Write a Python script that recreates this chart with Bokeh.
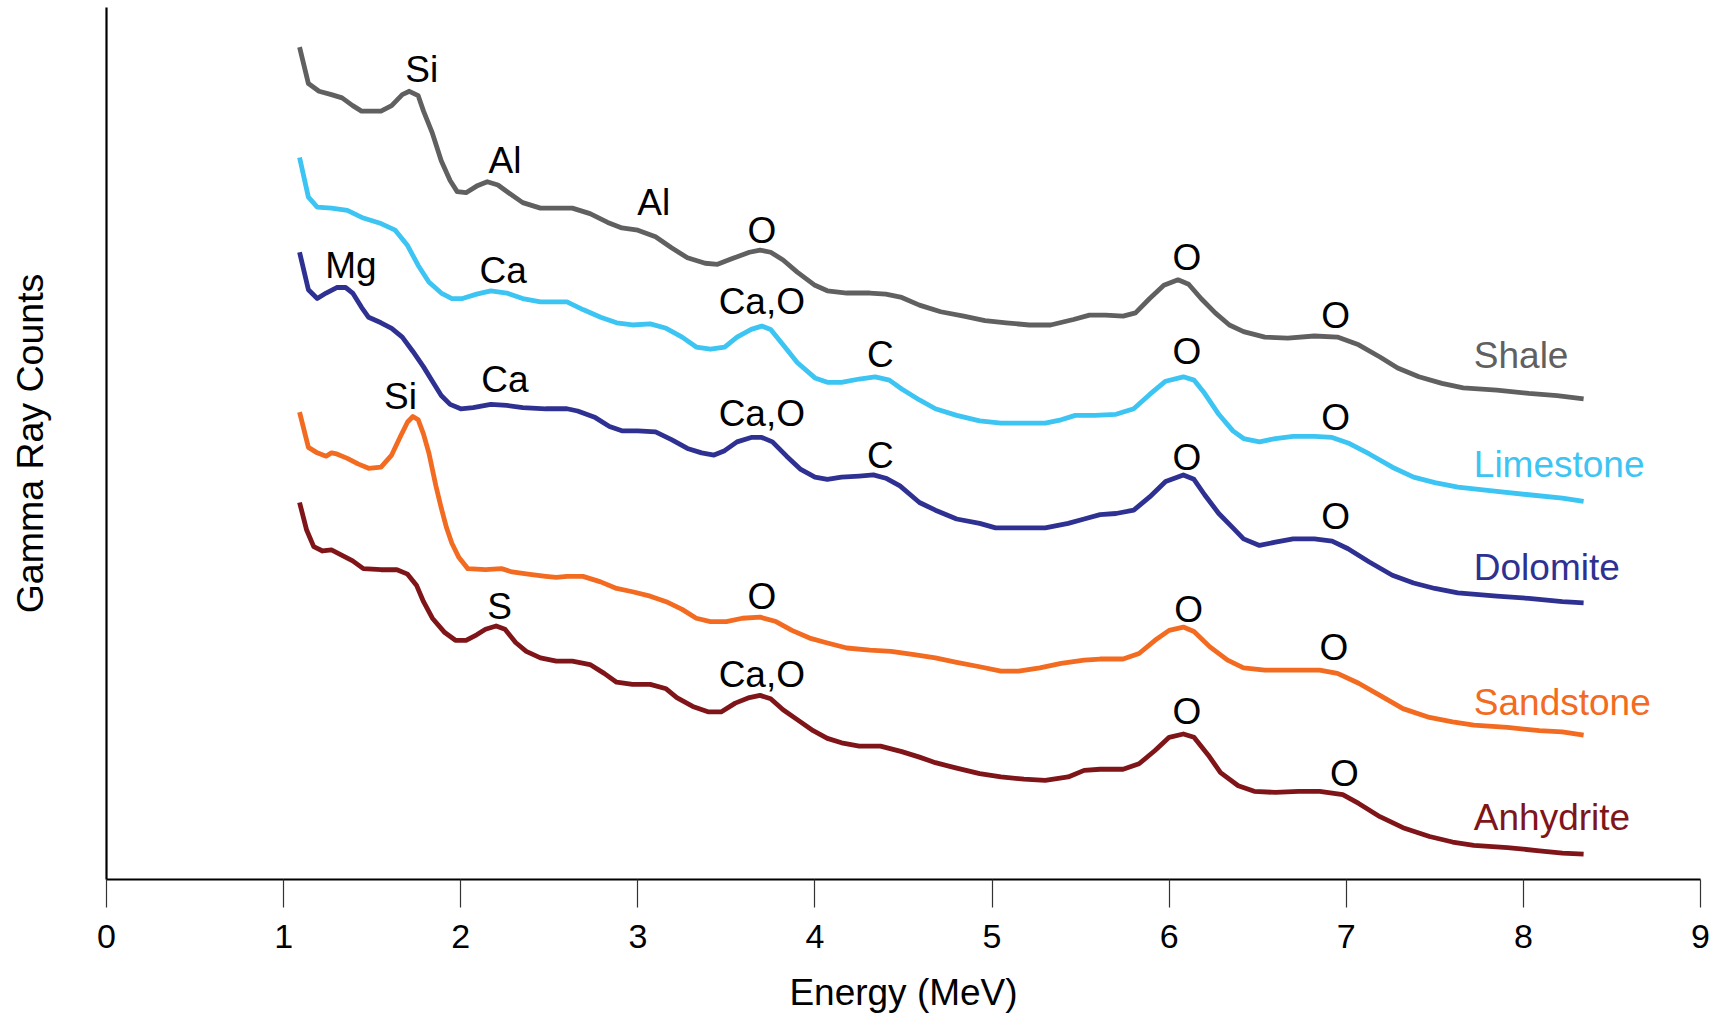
from bokeh.plotting import figure
from bokeh.models import Range1d, FixedTicker
from bokeh.core.properties import value
from bokeh.embed import file_html
from bokeh.resources import INLINE

FONT = "Liberation Sans"

# Energy (MeV) and relative gamma-ray counts (arbitrary offset units)
shale_e = [1.09, 1.14, 1.20, 1.27, 1.33, 1.39, 1.44, 1.55, 1.61, 1.67, 1.71, 1.76, 1.79, 1.84, 1.89, 1.94, 1.98, 2.03, 2.09, 2.15,
           2.21, 2.27, 2.35, 2.45, 2.63, 2.73, 2.83, 2.91, 3.00, 3.10, 3.19, 3.28, 3.38, 3.45, 3.53, 3.63, 3.69, 3.75, 3.82, 3.90,
           4.00, 4.07, 4.18, 4.31, 4.40, 4.49, 4.59, 4.71, 4.84, 4.96, 5.08, 5.21, 5.33, 5.46, 5.55, 5.64, 5.74, 5.81, 5.89, 5.97,
           6.05, 6.11, 6.18, 6.26, 6.34, 6.42, 6.54, 6.67, 6.82, 6.95, 7.07, 7.19, 7.29, 7.41, 7.54, 7.66, 7.85, 8.03, 8.19, 8.34]
shale_c = [755, 722, 715, 712, 709, 702, 697, 697, 702, 712, 715, 711, 697, 677, 652, 634, 624, 623, 629, 633,
           630, 623, 614, 609, 609, 604, 596, 591, 589, 583, 573, 564, 559, 558, 563, 569, 571, 569, 562, 551,
           539, 534, 532, 532, 531, 528, 521, 515, 511, 507, 505, 503, 503, 508, 512, 512, 511, 514, 527, 539,
           544, 540, 527, 514, 503, 497, 492, 491, 493, 492, 485, 474, 464, 456, 450, 446, 444, 441, 439, 436]

lime_e = [1.09, 1.14, 1.19, 1.27, 1.36, 1.45, 1.55, 1.63, 1.70, 1.76, 1.82, 1.89, 1.95, 2.01, 2.09, 2.17, 2.26, 2.35, 2.45, 2.60,
          2.69, 2.79, 2.88, 2.97, 3.07, 3.16, 3.25, 3.33, 3.41, 3.49, 3.56, 3.64, 3.70, 3.75, 3.82, 3.90, 4.00, 4.07, 4.15, 4.25,
          4.34, 4.42, 4.49, 4.59, 4.68, 4.80, 4.93, 5.05, 5.18, 5.30, 5.39, 5.47, 5.58, 5.70, 5.80, 5.89, 5.98, 6.08, 6.14, 6.20,
          6.28, 6.36, 6.42, 6.51, 6.60, 6.70, 6.82, 6.92, 7.01, 7.13, 7.26, 7.38, 7.50, 7.63, 7.85, 8.03, 8.22, 8.34]
lime_c = [655, 619, 610, 609, 607, 600, 595, 589, 575, 557, 542, 532, 527, 527, 531, 534, 532, 527, 524, 524,
          517, 510, 505, 503, 504, 500, 492, 483, 481, 483, 492, 499, 502, 499, 485, 469, 455, 451, 451, 454,
          456, 453, 445, 435, 427, 421, 416, 414, 414, 414, 417, 421, 421, 422, 427, 440, 452, 456, 453, 441,
          422, 407, 400, 397, 400, 402, 402, 401, 396, 386, 374, 365, 360, 356, 352, 349, 346, 343]

dolo_e = [1.09, 1.14, 1.19, 1.24, 1.30, 1.35, 1.39, 1.44, 1.48, 1.55, 1.61, 1.67, 1.73, 1.79, 1.84, 1.89, 1.94, 2.00, 2.07, 2.17,
          2.26, 2.35, 2.48, 2.60, 2.66, 2.76, 2.84, 2.91, 3.00, 3.10, 3.19, 3.28, 3.36, 3.43, 3.49, 3.56, 3.64, 3.70, 3.76, 3.84,
          3.92, 4.00, 4.07, 4.15, 4.25, 4.33, 4.40, 4.48, 4.59, 4.68, 4.80, 4.93, 5.02, 5.15, 5.30, 5.43, 5.52, 5.61, 5.70, 5.80,
          5.89, 5.98, 6.08, 6.14, 6.20, 6.28, 6.36, 6.42, 6.51, 6.60, 6.70, 6.82, 6.92, 7.01, 7.13, 7.26, 7.38, 7.50, 7.63, 7.85,
          8.03, 8.22, 8.34]
dolo_c = [569, 535, 527, 532, 537, 537, 532, 519, 510, 505, 500, 492, 479, 465, 452, 439, 431, 427, 428, 431,
          430, 428, 427, 427, 425, 419, 411, 407, 407, 406, 399, 391, 387, 385, 389, 397, 401, 401, 397, 384,
          372, 365, 363, 365, 366, 367, 364, 357, 342, 335, 327, 323, 319, 319, 319, 323, 327, 331, 332, 335,
          347, 361, 367, 363, 349, 332, 319, 309, 303, 306, 309, 309, 307, 300, 288, 276, 269, 264, 260, 257,
          255, 252, 251]

sand_e = [1.09, 1.14, 1.19, 1.24, 1.27, 1.30, 1.36, 1.42, 1.48, 1.55, 1.61, 1.66, 1.70, 1.73, 1.76, 1.79, 1.82, 1.86, 1.89, 1.92,
          1.95, 1.99, 2.04, 2.14, 2.23, 2.29, 2.38, 2.48, 2.54, 2.60, 2.69, 2.79, 2.88, 2.97, 3.07, 3.16, 3.25, 3.33, 3.41, 3.50,
          3.59, 3.69, 3.78, 3.87, 3.97, 4.06, 4.18, 4.31, 4.43, 4.56, 4.68, 4.80, 4.93, 5.05, 5.15, 5.27, 5.39, 5.52, 5.61, 5.74,
          5.83, 5.92, 6.00, 6.08, 6.14, 6.23, 6.33, 6.42, 6.54, 6.70, 6.85, 6.95, 7.07, 7.19, 7.32, 7.47, 7.60, 7.72, 7.91, 8.09,
          8.22, 8.34]
sand_c = [424, 392, 387, 384, 387, 386, 382, 377, 373, 374, 385, 402, 415, 420, 417, 404, 387, 357, 337, 319,
          305, 292, 282, 281, 282, 279, 277, 275, 274, 275, 275, 270, 264, 261, 257, 252, 245, 237, 234, 234,
          237, 238, 234, 226, 219, 215, 210, 208, 207, 204, 201, 197, 193, 189, 189, 192, 196, 199, 200, 200,
          205, 217, 226, 229, 225, 211, 199, 192, 190, 190, 190, 187, 178, 167, 155, 147, 143, 140, 138, 135,
          134, 131]

anhy_e = [1.09, 1.13, 1.17, 1.22, 1.27, 1.33, 1.39, 1.45, 1.55, 1.64, 1.70, 1.75, 1.79, 1.84, 1.91, 1.97, 2.03, 2.09, 2.14, 2.20,
          2.25, 2.31, 2.37, 2.45, 2.54, 2.63, 2.73, 2.81, 2.88, 2.97, 3.07, 3.16, 3.22, 3.31, 3.40, 3.47, 3.55, 3.63, 3.69, 3.75,
          3.82, 3.90, 3.99, 4.07, 4.15, 4.25, 4.37, 4.49, 4.59, 4.68, 4.80, 4.93, 5.05, 5.18, 5.30, 5.43, 5.52, 5.61, 5.74, 5.83,
          5.92, 6.00, 6.08, 6.14, 6.22, 6.29, 6.39, 6.48, 6.60, 6.73, 6.85, 6.98, 7.07, 7.19, 7.32, 7.47, 7.60, 7.72, 7.91, 8.09,
          8.22, 8.34]
anhy_c = [342, 317, 302, 298, 299, 294, 289, 282, 281, 281, 277, 267, 252, 237, 224, 217, 217, 222, 227, 230,
          227, 215, 207, 201, 198, 198, 195, 187, 179, 177, 177, 173, 165, 157, 152, 152, 160, 165, 167, 164,
          154, 145, 135, 128, 124, 121, 121, 116, 111, 106, 101, 96, 93, 91, 90, 93, 99, 100, 100, 105,
          117, 129, 132, 129, 113, 97, 85, 80, 79, 80, 80, 77, 69, 57, 47, 39, 34, 31, 29, 26,
          24, 23]

series_names = ["Shale", "Limestone", "Dolomite", "Sandstone", "Anhydrite"]
series_colors = ["#606060", "#3cc4f2", "#2e3192", "#f26b21", "#7f1519"]
name_e = [7.72, 7.72, 7.72, 7.72, 7.72]
name_c = [475, 376, 283, 161, 56]

# Peak annotations: element label, energy, counts position
peak_text = ["Si", "Al", "Al", "O", "O", "O",
             "Ca", "Ca,O", "C", "O", "O",
             "Mg", "Ca", "Ca,O", "C", "O", "O",
             "Si", "O", "O", "O",
             "S", "Ca,O", "O", "O"]
peak_e = [1.78, 2.25, 3.09, 3.70, 6.10, 6.94,
          2.24, 3.70, 4.37, 6.10, 6.94,
          1.38, 2.25, 3.70, 4.37, 6.10, 6.94,
          1.66, 3.70, 6.11, 6.93,
          2.22, 3.70, 6.10, 6.99]
peak_c = [735, 652, 614, 589, 564, 512,
          552, 524, 476, 479, 419,
          557, 454, 423, 385, 383, 329,
          438, 257, 245, 210,
          248, 186, 152, 96]

x_ticks = [0, 1, 2, 3, 4, 5, 6, 7, 8, 9]

p = figure(width=1722, height=1015, output_backend="svg", toolbar_location=None,
           x_range=Range1d(0, 9), y_range=Range1d(0, 791),
           min_border_left=106, min_border_right=22, min_border_top=7, min_border_bottom=100)
p.grid.visible = False
p.outline_line_color = None
p.background_fill_color = "white"
p.border_fill_color = "white"

curves = [(shale_e, shale_c), (lime_e, lime_c), (dolo_e, dolo_c), (sand_e, sand_c), (anhy_e, anhy_c)]
for (ex, cy), col in zip(curves, series_colors):
    p.line(ex, cy, line_color=col, line_width=4.8, line_join="round", line_cap="butt")

p.text(x=name_e, y=name_c, text=series_names, text_color=series_colors,
       text_font=value(FONT), text_font_size="37px", text_align="left", text_baseline="middle")

p.text(x=peak_e, y=peak_c, text=peak_text, text_color="black",
       text_font=value(FONT), text_font_size="37px", text_align="center", text_baseline="middle")

xa = p.xaxis[0]
xa.ticker = FixedTicker(ticks=x_ticks)
xa.axis_label = "Energy (MeV)"
xa.axis_label_text_font = FONT
xa.axis_label_text_font_size = "37px"
xa.axis_label_text_font_style = "normal"
xa.axis_label_text_color = "black"
xa.axis_label_standoff = 21
xa.major_label_text_font = FONT
xa.major_label_text_font_size = "34px"
xa.major_label_text_color = "black"
xa.major_label_standoff = 17
xa.major_tick_out = 28
xa.major_tick_in = 0
xa.major_tick_line_color = "#333333"
xa.major_tick_line_width = 1.2
xa.minor_tick_line_color = None
xa.axis_line_color = "black"
xa.axis_line_width = 2.2

ya = p.yaxis[0]
ya.ticker = FixedTicker(ticks=[])
ya.axis_label = "Gamma Ray Counts"
ya.axis_label_text_font = FONT
ya.axis_label_text_font_size = "37.5px"
ya.axis_label_text_font_style = "normal"
ya.axis_label_text_color = "black"
ya.axis_label_standoff = 56
ya.major_tick_out = 0
ya.major_tick_in = 0
ya.minor_tick_line_color = None
ya.axis_line_color = "black"
ya.axis_line_width = 2.2

open("out.html", "w").write(file_html(p, INLINE))
